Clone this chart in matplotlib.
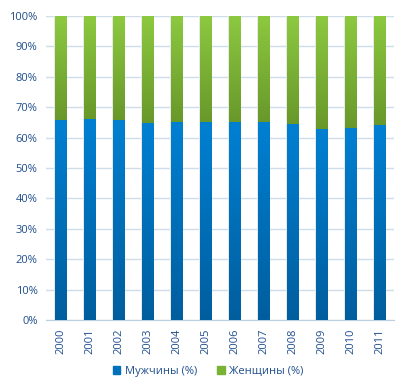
import numpy as np
import matplotlib.pyplot as plt
from matplotlib.colors import LinearSegmentedColormap
from matplotlib.patches import Patch

years = ['2000', '2001', '2002', '2003', '2004', '2005',
         '2006', '2007', '2008', '2009', '2010', '2011']
men = [65.8, 66.1, 65.8, 64.8, 65.1, 65.1, 65.1, 65.1, 64.5, 62.8, 63.3, 64.1]
women = [100 - m for m in men]

text_color = '#1F4E8C'
plt.rcParams['font.family'] = ['Open Sans', 'DejaVu Sans']
plt.rcParams['font.size'] = 8

fig = plt.figure(figsize=(4.08, 3.92), dpi=100)
ax = fig.add_axes([0.1127, 0.1837, 0.853, 0.7755])

x = np.arange(len(years))
w = 0.4

# soft shadow behind bars
ax.bar(x, 100, width=w + 0.08, color='#E8E8E8', zorder=1, linewidth=0)

blue_cmap = LinearSegmentedColormap.from_list('b', ['#005E9E', '#0080D2'])
green_cmap = LinearSegmentedColormap.from_list('g', ['#68982A', '#8DC940'])
grad = np.linspace(0, 1, 256).reshape(-1, 1)

bars_m = ax.bar(x, men, width=w, color='none', zorder=2, linewidth=0)
bars_w = ax.bar(x, women, width=w, bottom=men, color='none', zorder=2, linewidth=0)

for bars, cmap in [(bars_m, blue_cmap), (bars_w, green_cmap)]:
    for b in bars:
        x0, y0 = b.get_x(), b.get_y()
        im = ax.imshow(grad, cmap=cmap, origin='lower', aspect='auto',
                       extent=[x0, x0 + b.get_width(), y0, y0 + b.get_height()],
                       zorder=3)
        im.set_clip_path(b)

ax.set_xlim(-0.5, len(years) - 0.5)
ax.set_ylim(0, 100)
ax.set_yticks(np.arange(0, 101, 10))
ax.set_yticklabels([f'{v}%' for v in range(0, 101, 10)], color=text_color)
ax.set_xticks(x)
ax.set_xticklabels(years, rotation=90, color=text_color)
ax.tick_params(length=0, pad=6)
ax.yaxis.grid(True, color='#CFDDEA', linewidth=1)
ax.set_axisbelow(True)
for s in ['left', 'right', 'top']:
    ax.spines[s].set_visible(False)
ax.spines['bottom'].set_color('#BBCFE3')

handles = [Patch(color='#0070BA', label='Мужчины (%)'),
           Patch(color='#7AB236', label='Женщины (%)')]
leg = fig.legend(handles=handles, loc='center', bbox_to_anchor=(0.51, 0.052),
                 ncol=2, frameon=False, handlelength=0.7, handleheight=0.7,
                 columnspacing=1.8, handletextpad=0.4)
for t in leg.get_texts():
    t.set_color(text_color)

fig.savefig('out.png', dpi=100)
